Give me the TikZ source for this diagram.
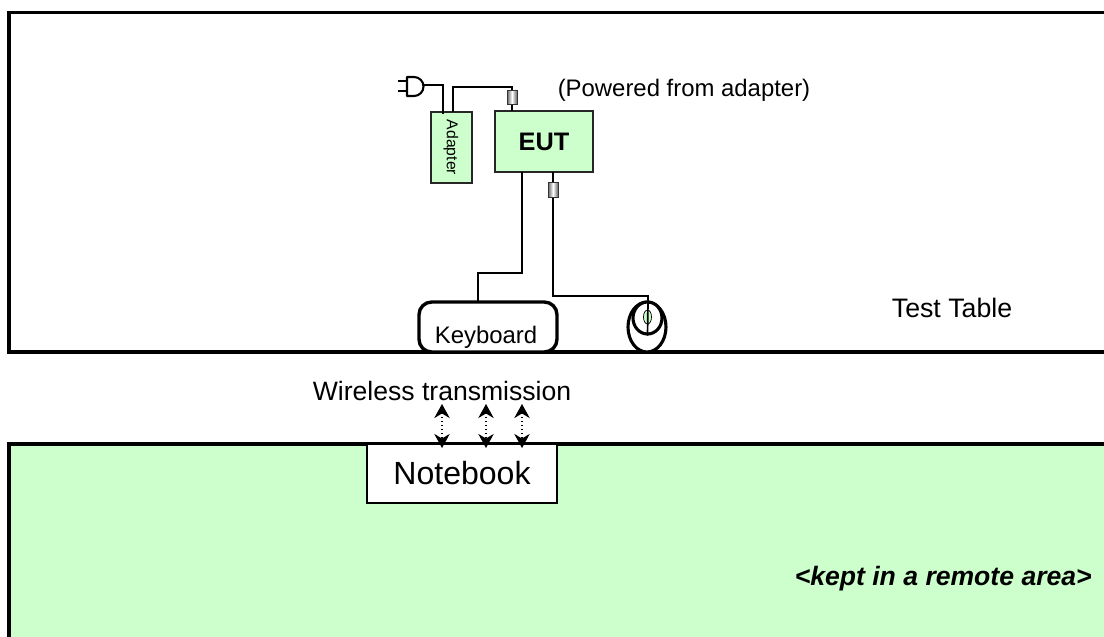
\documentclass[tikz,border=0pt]{standalone}
\usepackage{fontspec}
\setmainfont{Liberation Sans}
\usetikzlibrary{calc}
\usetikzlibrary{arrows.meta}
\usetikzlibrary{shapes.geometric}
\definecolor{boxgreen}{HTML}{CCFFCC}
\tikzset{
  frame/.style={black, line width=2.5pt},
  wire/.style={black, line width=2.1pt},
  greenbox/.style={draw=black!85, fill=boxgreen, line width=1.6pt, inner sep=0pt},
  ferrite/.style={draw=black!80, line width=.6pt, left color=black!60, right color=black!60, middle color=white, minimum width=7pt, minimum height=10.5pt, inner sep=0pt},
  radio/.style={{Stealth[length=10pt,width=11pt]}-{Stealth[length=10pt,width=11pt]}, black, line width=.8pt, dotted},
  lbl/.style={inner sep=0pt, text=black}
}
\begin{document}
\begin{tikzpicture}[x=0.025cm,y=-0.025cm]
\useasboundingbox (0,0) rectangle (1104,637);
% remote area
\fill[boxgreen] (9.2,444) rectangle (1104,637);
\draw[frame] (1104,444) -- (9.2,444) -- (9.2,637);
% test table
\draw[frame] (1104,12.5) -- (9.2,12.5) -- (9.2,352) -- (1104,352);
\node[lbl] (tablelabel) at (952,308) {\fontsize{19}{20}\selectfont Test Table};
\node[lbl] (powerlabel) at (684,90) {\fontsize{17}{20}\selectfont (Powered from adapter)};
% units
\node[greenbox, minimum width=41*0.711pt, minimum height=71*0.711pt] (adapter) at (451.5,147.5) {};
\node[lbl, rotate=-90] (adapterlabel) at (451,147.5) {\fontsize{11.2}{12}\selectfont Adapter};
\node[greenbox, minimum width=98*0.711pt, minimum height=61*0.711pt] (eut) at (544,141.5) {\fontsize{18}{20}\selectfont\bfseries EUT};
\node[draw=black, fill=white, rounded corners=9pt, line width=2.4pt, minimum width=138*0.711pt, minimum height=50*0.711pt, inner sep=0pt] (keyboard) at (488,327) {};
\node[lbl] (keyboardlabel) at (486,337) {\fontsize{17}{20}\selectfont Keyboard};
% mouse
\node[draw=black, fill=white, ellipse, line width=2.2pt, minimum width=38*0.711pt, minimum height=50*0.711pt, inner sep=0pt] (mouse) at (647,327) {};
\node[draw=black, fill=white, ellipse, line width=2.2pt, minimum width=29*0.711pt, minimum height=32*0.711pt, inner sep=0pt] (mousetop) at (647.5,318) {};
\node[draw=black, fill=boxgreen, ellipse, line width=.5pt, minimum width=8*0.711pt, minimum height=14*0.711pt, inner sep=0pt] (wheel) at (647.5,317) {};
% plug
\coordinate (plugback) at (407,77);
\coordinate (plugfront) at (407,96);
\coordinate (plug) at (423,85);
\draw[wire, line width=1.5pt, line join=round] (plugback) -- ++(7,0) arc (-90:90:9.5) -- (plugfront) -- cycle;
\draw[wire, line width=1.2pt] (398,81) -- (407,81);
\draw[wire, line width=1.2pt] (398,91) -- (407,91);
% cables
\coordinate (cordin) at (443,114);
\coordinate (cordout) at (453,112);
\coordinate (eutpower) at (512,111);
\coordinate (eutkey) at (522,172);
\coordinate (eutmouse) at (553,172);
\coordinate (keyin) at (478,302);
\coordinate (mousein) at (648,302);
\draw[wire] (plug) -| (cordin);
\draw[wire] (cordout) |- (512,87) -- (eutpower);
\draw[wire] (eutkey) |- (478,273) -- (keyin);
\draw[wire] (eutmouse) |- (648,296) -- (mousein);
\draw[wire, line width=1.2pt] (mousein) -- (mousetop.south);
\node[ferrite] (ferritetop) at (512,97.5) {};
\node[ferrite] (ferritebottom) at (553,190) {};
% notebook
\node[draw=black, fill=white, line width=1.4pt, minimum width=190*0.711pt, minimum height=59*0.711pt, inner sep=0pt] (notebook) at (462,473.5) {\fontsize{22.8}{26}\selectfont Notebook};
\node[lbl] (wirelesslabel) at (442,391) {\fontsize{18.9}{22}\selectfont Wireless transmission};
\coordinate (aira) at (442,404);
\coordinate (airb) at (486,404);
\coordinate (airc) at (522,404);
\coordinate (nba) at (442,448);
\coordinate (nbb) at (486,448);
\coordinate (nbc) at (522,448);
\draw[radio] (aira) -- (nba);
\draw[radio] (airb) -- (nbb);
\draw[radio] (airc) -- (nbc);
\node[lbl, anchor=east] (remotelabel) at (1092,579) {\fontsize{18.9}{22}\selectfont\bfseries\itshape <kept in a remote area>};
\end{tikzpicture}
\end{document}
